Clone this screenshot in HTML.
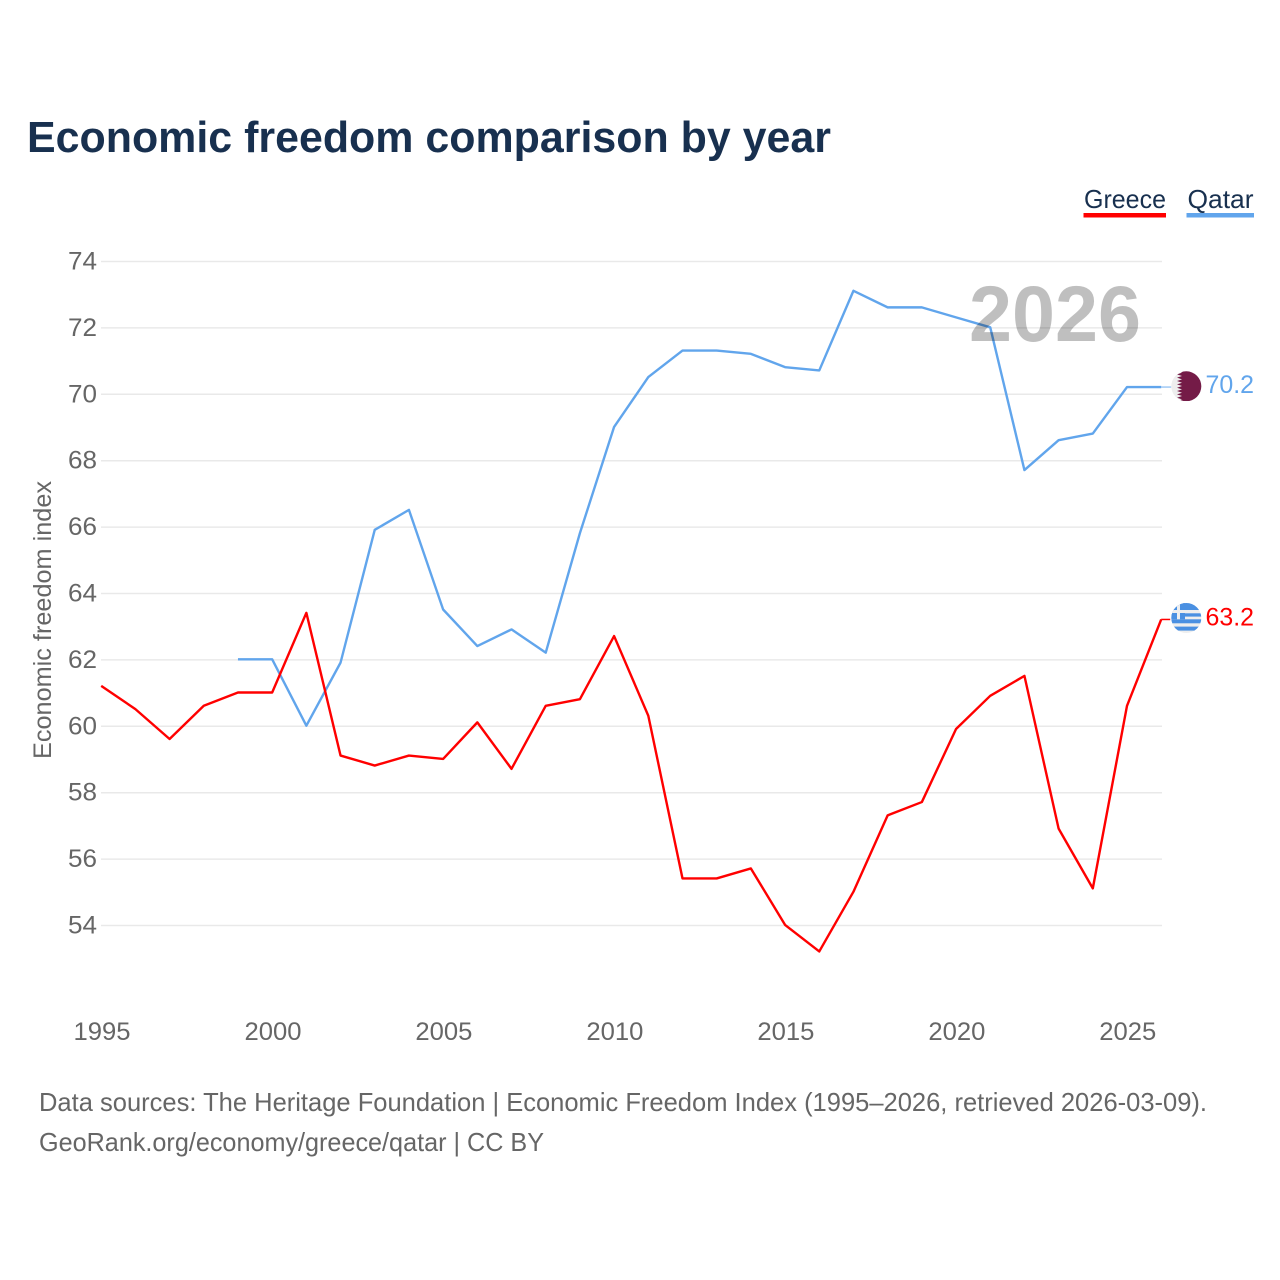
<!DOCTYPE html>
<html lang="en">
<head>
<meta charset="utf-8">
<title>Economic freedom comparison by year</title>
<style>
html,body{margin:0;padding:0;background:#fff;width:1280px;height:1280px;overflow:hidden}
svg{display:block}
text{font-family:"Liberation Sans",sans-serif}
</style>
</head>
<body>
<svg id="chart" width="1280" height="1280" viewBox="0 0 1280 1280" xmlns="http://www.w3.org/2000/svg">
  <defs>
    <clipPath id="flag-clip-qa"><circle cx="1186.3" cy="386.3" r="15"/></clipPath>
    <clipPath id="flag-clip-gr"><circle cx="1186.3" cy="618" r="15"/></clipPath>
  </defs>
  <rect width="1280" height="1280" fill="#fff"/>
  <text x="27" y="152" font-size="44" font-weight="700" fill="#18304f" textLength="804" lengthAdjust="spacingAndGlyphs">Economic freedom comparison by year</text>

  <g>
    <g>
      <text x="1084" y="208" font-size="26" fill="#18304f" textLength="82" lengthAdjust="spacingAndGlyphs">Greece</text>
      <rect x="1083.5" y="213" width="82.5" height="4.5" fill="#ff0000"/>
    </g>
    <g>
      <text x="1187.5" y="208" font-size="26" fill="#18304f" textLength="66" lengthAdjust="spacingAndGlyphs">Qatar</text>
      <rect x="1186.5" y="213" width="67.5" height="4.5" fill="#61a5ec"/>
    </g>
  </g>

  <g id="grid"></g>
  <g id="yticks"></g>
  <g id="xticks"></g>
  <text transform="translate(51,759) rotate(-90)" font-size="25" fill="#666" textLength="278" lengthAdjust="spacingAndGlyphs">Economic freedom index</text>

  <g id="series" transform="translate(-0.8,-0.6)"></g>

  <text x="1141" y="341" text-anchor="end" font-size="79" font-weight="700" fill="#000" fill-opacity="0.25" textLength="172" lengthAdjust="spacingAndGlyphs">2026</text>

  <g clip-path="url(#flag-clip-qa)">
    <rect x="1171" y="371" width="32" height="32" fill="#eeeeee"/>
    <path fill="#741b47" d="M1202 371H1177l5 1.67-5 1.67 5 1.67-5 1.67 5 1.67-5 1.67 5 1.67-5 1.67 5 1.67-5 1.67 5 1.67-5 1.67 5 1.67-5 1.67 5 1.67-5 1.67 5 1.67-5 1.67H1202Z"/>
  </g>
  <g clip-path="url(#flag-clip-gr)">
    <rect x="1171" y="603" width="32" height="31" fill="#eeeeee"/>
    <g fill="#4a90e2">
      <rect x="1171" y="603" width="32" height="7"/>
      <rect x="1171" y="613.3" width="32" height="3.3"/>
      <rect x="1171" y="619.3" width="32" height="4"/>
      <rect x="1171" y="626.6" width="32" height="4"/>
      <rect x="1171" y="603" width="14" height="16.3"/>
    </g>
    <rect x="1177" y="603" width="3" height="16.3" fill="#eeeeee"/>
    <rect x="1171" y="610" width="14" height="3" fill="#eeeeee"/>
  </g>
  <text x="1205.5" y="393" font-size="25" fill="#61a5ec" textLength="48.5" lengthAdjust="spacingAndGlyphs">70.2</text>
  <text x="1205.5" y="625.5" font-size="25" fill="#ff0000" textLength="48.5" lengthAdjust="spacingAndGlyphs">63.2</text>

  <text x="39" y="1111" font-size="26" fill="#666" textLength="1168" lengthAdjust="spacingAndGlyphs">Data sources: The Heritage Foundation | Economic Freedom Index (1995–2026, retrieved 2026-03-09).</text>
  <text x="39" y="1151" font-size="26" fill="#666" textLength="505" lengthAdjust="spacingAndGlyphs">GeoRank.org/economy/greece/qatar | CC BY</text>
</svg>
<script>
const yTickValues = [54, 56, 58, 60, 62, 64, 66, 68, 70, 72, 74];
const xTickValues = [1995, 2000, 2005, 2010, 2015, 2020, 2025];
const greeceYears = [1995, 1996, 1997, 1998, 1999, 2000, 2001, 2002, 2003, 2004, 2005, 2006, 2007, 2008, 2009, 2010, 2011, 2012, 2013, 2014, 2015, 2016, 2017, 2018, 2019, 2020, 2021, 2022, 2023, 2024, 2025, 2026];
const greeceValues = [61.2, 60.5, 59.6, 60.6, 61, 61, 63.4, 59.1, 58.8, 59.1, 59, 60.1, 58.7, 60.6, 60.8, 62.7, 60.3, 55.4, 55.4, 55.7, 54, 53.2, 55, 57.3, 57.7, 59.9, 60.9, 61.5, 56.9, 55.1, 60.6, 63.2];
const qatarYears = [1999, 2000, 2001, 2002, 2003, 2004, 2005, 2006, 2007, 2008, 2009, 2010, 2011, 2012, 2013, 2014, 2015, 2016, 2017, 2018, 2019, 2020, 2021, 2022, 2023, 2024, 2025, 2026];
const qatarValues = [62, 62, 60, 61.9, 65.9, 66.5, 63.5, 62.4, 62.9, 62.2, 65.8, 69, 70.5, 71.3, 71.3, 71.2, 70.8, 70.7, 73.1, 72.6, 72.6, 72.3, 72, 67.7, 68.6, 68.8, 70.2, 70.2];

const NS = 'http://www.w3.org/2000/svg';
function xScale(year) { return 102 + (year - 1995) * (1162 - 102) / 31; }
function yScale(v) { return 925.5 - (v - 54) * (925.5 - 261.5) / 20; }

const gridGroup = document.getElementById('grid');
const yGroup = document.getElementById('yticks');
const xGroup = document.getElementById('xticks');
const seriesGroup = document.getElementById('series');

yTickValues.forEach(function (v) {
  const line = document.createElementNS(NS, 'line');
  
  
  line.setAttribute('x1', 101);
  line.setAttribute('x2', 1162);
  line.setAttribute('y1', yScale(v));
  line.setAttribute('y2', yScale(v));
  line.setAttribute('stroke', '#e9e9e9');
  line.setAttribute('stroke-width', 1.5);
  gridGroup.appendChild(line);

  const label = document.createElementNS(NS, 'text');
  
  
  label.setAttribute('x', 97);
  label.setAttribute('y', yScale(v) + 8);
  label.setAttribute('text-anchor', 'end');
  label.setAttribute('font-size', 25);
  label.setAttribute('fill', '#666');
  label.setAttribute('textLength', 29);
  label.setAttribute('lengthAdjust', 'spacingAndGlyphs');
  label.textContent = v;
  yGroup.appendChild(label);
});

xTickValues.forEach(function (year) {
  const label = document.createElementNS(NS, 'text');
  
  
  label.setAttribute('x', xScale(year));
  label.setAttribute('y', 1040);
  label.setAttribute('text-anchor', 'middle');
  label.setAttribute('font-size', 25);
  label.setAttribute('fill', '#666');
  label.setAttribute('textLength', 57);
  label.setAttribute('lengthAdjust', 'spacingAndGlyphs');
  label.textContent = year;
  xGroup.appendChild(label);
});

function pathFor(years, values) {
  return years.map(function (year, i) {
    return (i ? 'L' : 'M') + xScale(year).toFixed(2) + ' ' + yScale(values[i]).toFixed(2);
  }).join('');
}

const qatarLine = document.createElementNS(NS, 'path');


qatarLine.setAttribute('d', pathFor(qatarYears, qatarValues));
qatarLine.setAttribute('fill', 'none');
qatarLine.setAttribute('stroke', '#61a5ec');
qatarLine.setAttribute('stroke-width', 2.4);
qatarLine.setAttribute('stroke-linejoin', 'round');
seriesGroup.appendChild(qatarLine);

const greeceLine = document.createElementNS(NS, 'path');


greeceLine.setAttribute('d', pathFor(greeceYears, greeceValues));
greeceLine.setAttribute('fill', 'none');
greeceLine.setAttribute('stroke', '#ff0000');
greeceLine.setAttribute('stroke-width', 2.4);
greeceLine.setAttribute('stroke-linejoin', 'round');
seriesGroup.appendChild(greeceLine);

const qatarConnector = document.createElementNS(NS, 'line');


qatarConnector.setAttribute('x1', xScale(2026));
qatarConnector.setAttribute('x2', 1172);
qatarConnector.setAttribute('y1', yScale(qatarValues[qatarValues.length - 1]));
qatarConnector.setAttribute('y2', yScale(qatarValues[qatarValues.length - 1]));
qatarConnector.setAttribute('stroke', '#61a5ec');
qatarConnector.setAttribute('stroke-opacity', 0.6);
qatarConnector.setAttribute('stroke-width', 1.5);
seriesGroup.appendChild(qatarConnector);

const greeceConnector = document.createElementNS(NS, 'line');


greeceConnector.setAttribute('x1', xScale(2026));
greeceConnector.setAttribute('x2', 1171);
greeceConnector.setAttribute('y1', yScale(greeceValues[greeceValues.length - 1]));
greeceConnector.setAttribute('y2', yScale(greeceValues[greeceValues.length - 1]));
greeceConnector.setAttribute('stroke', '#ff0000');
greeceConnector.setAttribute('stroke-width', 1.5);
seriesGroup.appendChild(greeceConnector);
</script>
</body>
</html>
